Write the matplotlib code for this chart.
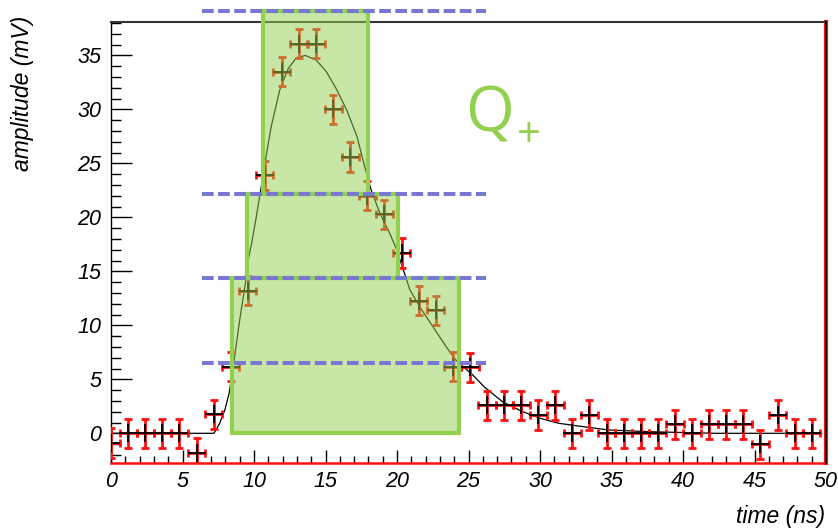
import matplotlib
matplotlib.use("Agg")
import matplotlib.pyplot as plt
from matplotlib.patches import Rectangle
from matplotlib.ticker import MultipleLocator

# ---------------- data ----------------
time_ns = [0.00, 1.20, 2.39, 3.59, 4.78, 5.98, 7.17, 8.37, 9.56, 10.76, 11.95,
           13.15, 14.34, 15.54, 16.73, 17.93, 19.12, 20.32, 21.51, 22.71, 23.90,
           25.10, 26.29, 27.49, 28.68, 29.88, 31.07, 32.27, 33.46, 34.66, 35.85,
           37.05, 38.24, 39.44, 40.63, 41.83, 43.02, 44.22, 45.41, 46.61, 47.80, 49.00]
amplitude_mV = [-0.9, 0.0, 0.0, 0.0, 0.0, -1.8, 1.75, 6.15, 13.2, 23.9, 33.5,
                36.1, 36.1, 30.0, 25.6, 22.0, 20.3, 16.7, 12.3, 11.4, 6.15,
                6.1, 2.6, 2.6, 2.6, 1.7, 2.6, 0.0, 1.7, 0.0, 0.0,
                0.0, 0.0, 0.85, 0.0, 0.85, 0.85, 0.85, -1.0, 1.7, 0.0, 0.0]
time_err = 0.6
amp_err = 1.35

fit_t = [0.0, 7.2, 7.6, 7.96, 8.26, 8.55, 9.0, 9.4, 9.58, 9.82, 10.16, 10.5, 10.8,
         11.2, 11.8, 12.4, 12.97, 13.6, 14.36, 15.06, 15.76, 16.5, 17.2, 17.74,
         18.2, 18.8, 19.5, 19.95, 20.3, 20.9, 21.6, 22.5, 23.45, 24.1, 25.3, 26.1,
         27.4, 28.8, 30.0, 31.3, 33.0, 34.8, 37.6, 42.3, 49.7]
fit_amp = [0.0, 0.0, 0.93, 2.16, 3.7, 6.17, 10.5, 13.9, 16.0, 17.5, 20.05, 22.8,
           25.3, 28.4, 31.8, 33.8, 34.8, 35.0, 34.56, 33.5, 31.9, 29.9, 27.5, 24.7,
           22.5, 20.4, 18.5, 17.1, 15.7, 13.3, 11.7, 9.9, 8.0, 6.8, 5.4, 4.3,
           2.9, 2.0, 1.4, 0.93, 0.62, 0.31, 0.15, 0.0, 0.0]

# integration boxes: (t_start, t_end, amp_low, amp_high)
box_t0 = [8.47, 9.48, 10.62]
box_t1 = [24.33, 20.09, 17.95]
box_a0 = [0.0, 14.35, 22.16]
box_a1 = [14.35, 22.16, 39.1]

threshold_levels = [39.1, 22.16, 14.35, 6.54]
threshold_t0, threshold_t1 = 6.33, 26.2

x_ticks = [0, 5, 10, 15, 20, 25, 30, 35, 40, 45, 50]
y_ticks = [0, 5, 10, 15, 20, 25, 30, 35]

# ---------------- figure ----------------
W, H = 838, 532
fig = plt.figure(figsize=(W / 100, H / 100), dpi=100)
ax = fig.add_axes([111 / W, 1 - 463 / H, (826 - 111) / W, (463 - 22) / H])
ax.set_xlim(0, 50)
ax.set_ylim(-2.75, 38.1)

font = "Liberation Sans"

# fit curve
ax.plot(fit_t, fit_amp, color="black", lw=0.9, zorder=2)

# data points
ax.errorbar(time_ns, amplitude_mV, xerr=time_err, yerr=amp_err, fmt="none",
            ecolor="#ff1010", elinewidth=2.0, capsize=2.8, capthick=2.0, zorder=3)
ax.plot(time_ns, amplitude_mV, linestyle="none", marker="+", markersize=13,
        markeredgewidth=1.3, color="black", zorder=4)

# green boxes
green = "#92d050"
for t0, t1, a0, a1 in zip(box_t0, box_t1, box_a0, box_a1):
    ax.add_patch(Rectangle((t0, a0), t1 - t0, a1 - a0, facecolor=green, alpha=0.5,
                           edgecolor="none", zorder=5, clip_on=False))
for t0, t1, a0, a1 in zip(box_t0, box_t1, box_a0, box_a1):
    ax.add_patch(Rectangle((t0, a0), t1 - t0, a1 - a0, facecolor="none",
                           edgecolor=green, lw=3.0, zorder=6, clip_on=False))

# dashed threshold lines
for lvl in threshold_levels:
    ax.plot([threshold_t0, threshold_t1], [lvl, lvl], color="#7878d4", lw=2.9,
            linestyle=(0, (2.9, 1.1)), zorder=7, clip_on=False, solid_capstyle="butt",
            dash_capstyle="butt")

# axes styling (ROOT-like)
ax.xaxis.set_minor_locator(MultipleLocator(1))
ax.yaxis.set_minor_locator(MultipleLocator(1))
ax.set_xticks(x_ticks)
ax.set_yticks(y_ticks)
ax.set_xticklabels([str(v) for v in x_ticks])
ax.set_yticklabels([str(v) for v in y_ticks])
ax.tick_params(axis="y", which="major", direction="in", length=15, width=1.0,
               pad=7, labelsize=15.5, right=False)
ax.tick_params(axis="y", which="minor", direction="in", length=7.5, width=1.0, right=False)
ax.tick_params(axis="x", which="major", direction="in", length=9.5, width=1.0,
               pad=6, labelsize=15.5, top=False)
ax.tick_params(axis="x", which="minor", direction="in", length=5, width=1.0, top=False)
for lab in ax.get_xticklabels() + ax.get_yticklabels():
    lab.set_fontfamily(font)
    lab.set_fontstyle("italic")

ax.spines["left"].set_color("black")
ax.spines["left"].set_linewidth(1.0)
ax.spines["top"].set_color("#333333")
ax.spines["top"].set_linewidth(1.5)
ax.spines["bottom"].set_color("#ff1010")
ax.spines["bottom"].set_linewidth(1.8)
ax.spines["right"].set_color("#ff1010")
ax.spines["right"].set_linewidth(3.0)
ax.axvline(50, color="black", lw=1.3, zorder=8, clip_on=False)

# axis titles
fig.text(22 / W, 1 - 16 / H, "amplitude (mV)", rotation=90, ha="center", va="top",
         fontsize=16.5, fontstyle="italic", family=font)
fig.text(825 / W, 1 - 523 / H, "time (ns)", ha="right", va="baseline",
         fontsize=16.5, fontstyle="italic", family=font)

# Q+ label
fig.text(465 / W, 1 - 131 / H, "Q", ha="left", va="baseline", fontsize=45,
         color=green, family="Open Sans")
fig.text(529 / W, 1 - 136 / H, "+", ha="center", va="center", fontsize=30,
         color=green, family="Open Sans")

fig.savefig("out.png", dpi=100)
